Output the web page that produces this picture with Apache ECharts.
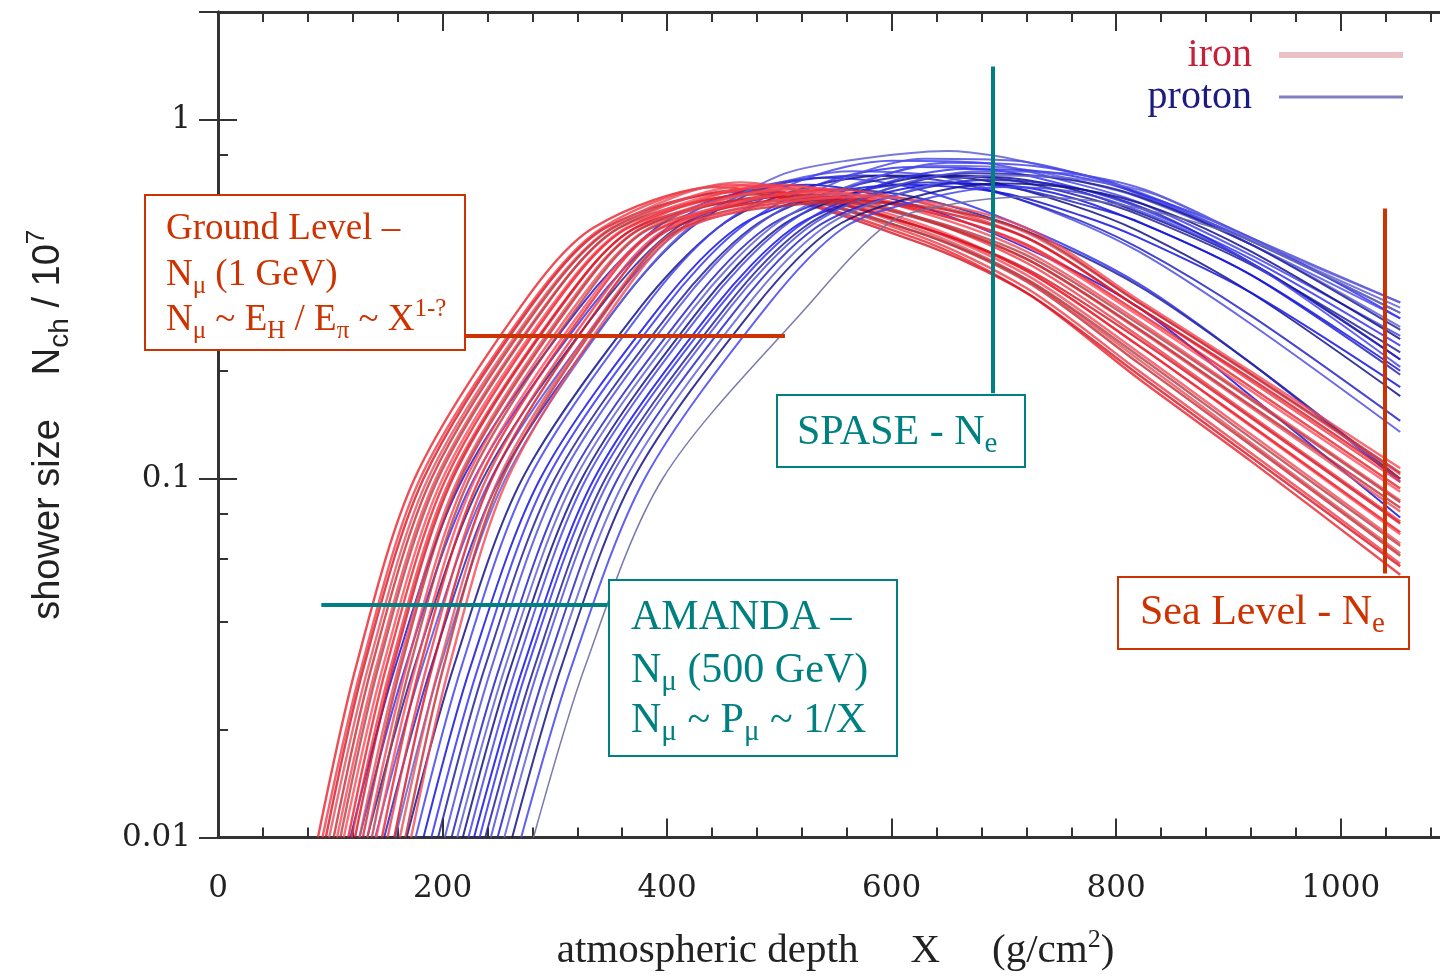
<!DOCTYPE html>
<html>
<head>
<meta charset="utf-8">
<title>shower size vs atmospheric depth</title>
<script src="https://cdn.jsdelivr.net/npm/echarts@6/dist/echarts.min.js"></script>
<style>
  html, body { margin: 0; padding: 0; background: #fff; overflow: hidden; width: 1440px; height: 977px; }
  #chart { width: 1470px; height: 977px; }
</style>
</head>
<body>
<div id="chart"></div>
<script>
// tick values
const yMinorTicks = [0.02, 0.04, 0.06, 0.08, 0.2, 0.4, 0.6, 0.8]

// iron showers: [depth X (g/cm2), Nch / 1e7]
const ironShowers = [
  [[89, .01], [123, .03], [175, .1], [269, .3], [334, .5], [445, .65], [620, .47], [720, .33], [820, .19], [920, .112], [1053, .054]],
  [[93, .01], [128, .03], [180, .1], [276, .3], [342, .5], [455, .66], [620, .48], [720, .34], [820, .20], [920, .118], [1053, .058]],
  [[96, .01], [130, .03], [183, .1], [278, .3], [345, .5], [460, .63], [620, .46], [720, .33], [820, .195], [920, .115], [1053, .057]],
  [[99, .01], [134, .03], [187, .1], [283, .3], [350, .5], [465, .67], [620, .50], [720, .36], [820, .215], [920, .126], [1053, .062]],
  [[103, .01], [137, .03], [190, .1], [285, .3], [352, .5], [470, .64], [620, .49], [720, .355], [820, .21], [920, .124], [1053, .061]],
  [[106, .01], [141, .03], [194, .1], [290, .3], [357, .5], [478, .66], [620, .51], [720, .37], [820, .225], [920, .133], [1053, .066]],
  [[109, .01], [143, .03], [196, .1], [291, .3], [357, .5], [480, .62], [620, .49], [720, .36], [820, .22], [920, .13], [1053, .065]],
  [[112, .01], [147, .03], [200, .1], [296, .3], [363, .5], [488, .65], [620, .52], [720, .38], [820, .235], [920, .14], [1053, .070]],
  [[116, .01], [150, .03], [203, .1], [298, .3], [365, .5], [492, .63], [620, .51], [720, .38], [820, .235], [920, .141], [1053, .071]],
  [[119, .01], [154, .03], [207, .1], [304, .3], [371, .5], [500, .66], [620, .54], [720, .40], [820, .25], [920, .15], [1053, .076]],
  [[122, .01], [156, .03], [209, .1], [305, .3], [372, .5], [505, .61], [620, .51], [720, .385], [820, .245], [920, .148], [1053, .075]],
  [[126, .01], [161, .03], [214, .1], [310, .3], [377, .5], [512, .64], [620, .54], [720, .41], [820, .26], [920, .158], [1053, .081]],
  [[129, .01], [163, .03], [216, .1], [312, .3], [378, .5], [515, .62], [620, .535], [720, .41], [820, .262], [920, .16], [1053, .083]],
  [[133, .01], [168, .03], [221, .1], [317, .3], [384, .5], [522, .65], [620, .56], [720, .43], [820, .275], [920, .168], [1053, .087]],
  [[137, .01], [171, .03], [224, .1], [320, .3], [386, .5], [528, .60], [620, .54], [720, .42], [820, .27], [920, .166], [1053, .086]],
  [[141, .01], [176, .03], [229, .1], [326, .3], [393, .5], [535, .63], [620, .57], [720, .445], [820, .285], [920, .176], [1053, .092]],
  [[146, .01], [180, .03], [233, .1], [329, .3], [395, .5], [540, .61], [620, .565], [720, .45], [820, .29], [920, .18], [1053, .094]],
  [[151, .01], [186, .03], [239, .1], [335, .3], [401, .5], [548, .64], [620, .595], [720, .47], [820, .30], [920, .187], [1053, .098]],
  [[157, .01], [191, .03], [244, .1], [339, .3], [405, .5], [552, .60], [620, .575], [720, .47], [820, .30], [920, .19], [1053, .10]],
  [[162, .01], [197, .03], [250, .1], [346, .3], [412, .5], [558, .62], [620, .595], [720, .485], [820, .31], [920, .195], [1053, .103]],
  [[167, .01], [201, .03], [253, .1], [348, .3], [414, .5], [562, .59], [620, .58], [720, .49], [820, .31], [920, .196], [1053, .104]],
  [[172, .01], [206, .03], [258, .1], [352, .3], [417, .5], [568, .61], [620, .60], [720, .50], [820, .315], [920, .199], [1053, .107]]
]

// proton showers: [depth X (g/cm2), Nch / 1e7]
const protonShowers = [
  [[118, .01], [158, .03], [218, .1], [322, .3], [390, .5], [450, .61], [525, .66], [620, .58], [720, .44], [820, .30], [920, .17], [1053, .078]],
  [[126, .01], [167, .03], [228, .1], [332, .3], [400, .5], [465, .63], [540, .69], [620, .645], [720, .50], [820, .35], [920, .21], [1053, .098]],
  [[133, .01], [175, .03], [236, .1], [340, .3], [408, .5], [470, .59], [550, .64], [620, .61], [720, .49], [820, .345], [920, .21], [1053, .10]],
  [[140, .01], [182, .03], [243, .1], [347, .3], [413, .5], [480, .64], [565, .72], [650, .69], [740, .56], [820, .43], [920, .27], [1053, .135]],
  [[148, .01], [190, .03], [251, .1], [355, .3], [421, .5], [490, .65], [575, .70], [660, .665], [750, .55], [820, .44], [920, .285], [1053, .145]],
  [[158, .01], [198, .03], [256, .1], [355, .3], [419, .5], [500, .70], [560, .77], [650, .82], [740, .74], [820, .63], [920, .46], [1053, .30]],
  [[168, .01], [210, .03], [271, .1], [376, .3], [445, .5], [510, .63], [595, .70], [680, .68], [760, .58], [820, .49], [920, .33], [1053, .17]],
  [[176, .01], [217, .03], [277, .1], [380, .3], [445, .5], [520, .68], [600, .77], [680, .76], [760, .67], [820, .59], [920, .42], [1053, .25]],
  [[183, .01], [225, .03], [287, .1], [393, .3], [462, .5], [530, .61], [610, .66], [700, .625], [770, .54], [820, .47], [920, .33], [1053, .18]],
  [[190, .01], [232, .03], [293, .1], [398, .3], [465, .5], [540, .67], [620, .74], [700, .72], [770, .64], [820, .57], [920, .41], [1053, .235]],
  [[196, .01], [238, .03], [300, .1], [406, .3], [475, .5], [545, .63], [625, .70], [705, .68], [775, .605], [820, .545], [920, .395], [1053, .225]],
  [[202, .01], [244, .03], [305, .1], [410, .3], [477, .5], [555, .68], [630, .78], [710, .77], [780, .69], [820, .62], [920, .45], [1053, .28]],
  [[208, .01], [251, .03], [313, .1], [419, .3], [488, .5], [560, .62], [632, .67], [710, .645], [780, .57], [820, .52], [920, .37], [1053, .195]],
  [[213, .01], [256, .03], [318, .1], [424, .3], [492, .5], [565, .66], [640, .745], [715, .73], [785, .655], [820, .61], [920, .45], [1053, .265]],
  [[218, .01], [261, .03], [324, .1], [430, .3], [499, .5], [570, .63], [645, .70], [720, .68], [790, .60], [920, .40], [1053, .215]],
  [[223, .01], [266, .03], [328, .1], [434, .3], [502, .5], [575, .67], [650, .76], [725, .745], [790, .68], [820, .625], [920, .46], [1053, .29]],
  [[228, .01], [272, .03], [335, .1], [442, .3], [512, .5], [580, .61], [655, .665], [730, .64], [800, .55], [920, .37], [1053, .20]],
  [[233, .01], [276, .03], [339, .1], [446, .3], [515, .5], [590, .66], [665, .73], [740, .715], [810, .64], [920, .47], [1053, .28]],
  [[238, .01], [282, .03], [345, .1], [452, .3], [521, .5], [595, .64], [670, .71], [745, .69], [815, .62], [920, .45], [1053, .26]],
  [[243, .01], [286, .03], [349, .1], [456, .3], [525, .5], [600, .65], [680, .72], [755, .71], [825, .64], [920, .47], [1053, .31]],
  [[249, .01], [293, .03], [356, .1], [463, .3], [532, .5], [605, .62], [685, .68], [760, .65], [830, .56], [920, .40], [1053, .215]],
  [[255, .01], [299, .03], [363, .1], [470, .3], [539, .5], [612, .63], [690, .70], [765, .685], [835, .62], [920, .465], [1053, .31]],
  [[262, .01], [306, .03], [370, .1], [478, .3], [548, .5], [620, .61], [695, .665], [770, .64], [840, .56], [920, .43], [1053, .245]],
  [[270, .01], [315, .03], [380, .1], [488, .3], [557, .5], [628, .60], [702, .65], [775, .62], [845, .52], [920, .40], [1053, .205]],
  [[281, .01], [327, .03], [396, .1], [524, .3], [597, .515], [650, .58], [720, .61], [790, .59], [860, .53], [920, .46], [1053, .29]]
]

// annotation markers [X, N]
const groundLevelLine = [[220, 0.25], [505, 0.25]]
const amandaLine = [[92, 0.0445], [347, 0.0445]]
const spaseLine = [[690, 0.173], [690, 1.41]]
const seaLevelLine = [[1039, 0.0544], [1039, 0.567]]

const ironColors = ['#e8202a', '#f03a46', '#d41424', '#e2505c', '#c42c34', '#f24858', '#b83c44', '#ff4a5a']
const protonColors = ['#1414e0', '#3434f4', '#22229a', '#5050e2', '#2424c4', '#6262d6', '#141488', '#4444ee']
const RED = '#cc3300'
const TEAL = '#008080'

const chart = echarts.init(document.getElementById('chart'))

const series = []
const n = Math.max(ironShowers.length, protonShowers.length)
for (let i = 0; i < n; i++) {
  if (protonShowers[i]) {
    const lone = i === protonShowers.length - 1
    series.push({
      name: 'proton',
      type: 'line',
      data: protonShowers[i],
      smooth: 0.3,
      symbol: 'none',
      showSymbol: false,
      silent: true,
      lineStyle: {
        width: lone ? 1.5 : 2,
        color: lone ? '#6c6ca4' : protonColors[i % protonColors.length],
        opacity: lone ? 0.9 : 0.85,
      },
    })
  }
  if (ironShowers[i]) {
    series.push({
      name: 'iron',
      type: 'line',
      data: ironShowers[i],
      smooth: 0.3,
      symbol: 'none',
      showSymbol: false,
      silent: true,
      lineStyle: {
        width: 2.4,
        color: ironColors[i % ironColors.length],
        opacity: 0.8,
      },
    })
  }
}

// annotation lines in data coordinates
const mk = (pts, color) => [
  { coord: pts[0], lineStyle: { color: color, width: 4, type: 'solid' } },
  { coord: pts[1] },
]
series.push({
  name: 'annotations',
  type: 'line',
  data: [],
  z: 10,
  silent: true,
  markLine: {
    silent: true,
    symbol: 'none',
    z: 10,
    label: { show: false },
    data: [
      mk(groundLevelLine, RED),
      mk(amandaLine, TEAL),
      mk(spaseLine, TEAL),
      mk(seaLevelLine, RED),
    ],
  },
})

const axisLineStyle = { color: '#333', width: 3 }
const tickStyle = { color: '#333', width: 2 }
const labelFont = { fontFamily: 'DejaVu Serif', fontSize: 31, color: '#222' }

// box text helpers (zrender style keys)
const serifRich = (size, color) => ({
  a: { fontFamily: 'Liberation Serif', fontSize: size, fill: color, lineHeight: size + 10 },
  s: { fontFamily: 'Liberation Serif', fontSize: Math.round(size * 0.68), fill: color, lineHeight: Math.round(size * 0.68), verticalAlign: 'bottom' },
  p: { fontFamily: 'Liberation Serif', fontSize: Math.round(size * 0.68), fill: color, lineHeight: Math.round(size * 0.68), verticalAlign: 'top' },
})
const boxText = (x, y, text, size, color) => ({
  type: 'text', x: x, y: y, z: 101,
  style: { text: text, rich: serifRich(size, color), fill: color, verticalAlign: 'middle', align: 'left' },
})
const box = (x, y, w, h, color) => ({
  type: 'rect', z: 100,
  shape: { x: x, y: y, width: w, height: h },
  style: { fill: '#fff', stroke: color, lineWidth: 2 },
})

const option = {
  animation: false,
  backgroundColor: '#fff',
  grid: { left: 218, right: 17, top: 12, bottom: 135 },
  legend: {
    orient: 'vertical',
    right: 59,
    top: 29,
    align: 'right',
    itemWidth: 124,
    itemHeight: 20,
    itemGap: 0,
    selectedMode: false,
    textStyle: { fontFamily: 'Liberation Serif', fontSize: 40, lineHeight: 42, padding: [0, 22, 0, 0] },
    data: [
      { name: 'iron', itemStyle: { opacity: 0 }, lineStyle: { color: '#e6b2ba', width: 6 }, textStyle: { color: '#c8203a' } },
      { name: 'proton', itemStyle: { opacity: 0 }, lineStyle: { color: '#6a6ab4', width: 3 }, textStyle: { color: '#1c1c80' } },
    ],
  },
  xAxis: [
    {
      type: 'value', position: 'bottom', min: 0, max: 1100, interval: 200,
      axisLine: { lineStyle: axisLineStyle },
      axisTick: { inside: true, length: 19, lineStyle: tickStyle },
      axisLabel: Object.assign({ margin: 36, showMaxLabel: false, formatter: (v) => String(v) }, labelFont),
      splitLine: { show: false },
      name: '{a|atmospheric depth}{g|}{a|X}{g|}{a|(g/cm}{p|2}{a|)}',
      nameLocation: 'middle',
      nameGap: 90,
      nameTextStyle: {
        rich: {
          a: { fontFamily: 'Liberation Serif', fontSize: 41, color: '#222', lineHeight: 48 },
          g: { width: 52 },
          p: { fontFamily: 'Liberation Serif', fontSize: 26, color: '#222', lineHeight: 26, verticalAlign: 'top' },
        },
      },
    },
    {
      type: 'value', position: 'bottom', min: 0, max: 1100, interval: 40,
      axisLine: { show: false },
      axisTick: { inside: true, length: 10, lineStyle: tickStyle },
      axisLabel: { show: false },
      splitLine: { show: false },
    },
    {
      type: 'value', position: 'top', min: 0, max: 1100, interval: 200,
      axisLine: { lineStyle: axisLineStyle },
      axisTick: { inside: true, length: 19, lineStyle: tickStyle },
      axisLabel: { show: false },
      splitLine: { show: false },
    },
    {
      type: 'value', position: 'top', min: 0, max: 1100, interval: 40,
      axisLine: { show: false },
      axisTick: { inside: true, length: 10, lineStyle: tickStyle },
      axisLabel: { show: false },
      splitLine: { show: false },
    },
  ],
  yAxis: [
    {
      type: 'log', position: 'left', min: 0.01, max: 2, logBase: 10,
      axisLine: { lineStyle: axisLineStyle },
      axisTick: { inside: true, length: 19, lineStyle: tickStyle },
      axisLabel: Object.assign({ margin: 27, showMaxLabel: false }, labelFont),
      splitLine: { show: false },
      name: '{a|shower size}{g|}{a|N}{s|ch}{a| / 10}{p|7}',
      nameLocation: 'middle',
      nameRotate: 90,
      nameGap: 144,
      nameTextStyle: {
        rich: {
          a: { fontFamily: 'Liberation Sans', fontSize: 38, color: '#222', lineHeight: 50 },
          g: { width: 44 },
          s: { fontFamily: 'Liberation Sans', fontSize: 28, color: '#222', lineHeight: 28, verticalAlign: 'bottom' },
          p: { fontFamily: 'Liberation Sans', fontSize: 26, color: '#222', lineHeight: 26, verticalAlign: 'top' },
        },
      },
    },
    {
      type: 'log', position: 'left', min: 0.01, max: 2, logBase: 10,
      axisLine: { show: false },
      axisTick: { inside: true, length: 10, lineStyle: tickStyle, customValues: yMinorTicks },
      axisLabel: { show: false },
      splitLine: { show: false },
    },
    {
      type: 'log', position: 'right', min: 0.01, max: 2, logBase: 10,
      axisLine: { show: true, lineStyle: axisLineStyle },
      axisTick: { show: true, inside: true, length: 19, lineStyle: tickStyle },
      axisLabel: { show: false },
      splitLine: { show: false },
    },
  ],
  series: series,
  graphic: [
    box(145, 195, 320, 155, RED),
    boxText(166, 229, '{a|Ground Level –}', 37, RED),
    boxText(166, 275, '{a|N}{s|μ}{a| (1 GeV)}', 37, RED),
    boxText(166, 320, '{a|N}{s|μ}{a| ~ E}{s|H}{a| / E}{s|π}{a| ~ X}{p|1-?}', 37, RED),

    box(777, 395, 248, 72, TEAL),
    boxText(797, 433, '{a|SPASE - N}{s|e}', 42, TEAL),

    box(609, 580, 288, 176, TEAL),
    boxText(631, 618, '{a|AMANDA –}', 42, TEAL),
    boxText(631, 671, '{a|N}{s|μ}{a| (500 GeV)}', 42, TEAL),
    boxText(631, 721, '{a|N}{s|μ}{a| ~ P}{s|μ}{a| ~ 1/X}', 42, TEAL),

    box(1118, 577, 291, 72, RED),
    boxText(1140, 613, '{a|Sea Level - N}{s|e}', 42, RED),
  ],
}

chart.setOption(option)
</script>
</body>
</html>
